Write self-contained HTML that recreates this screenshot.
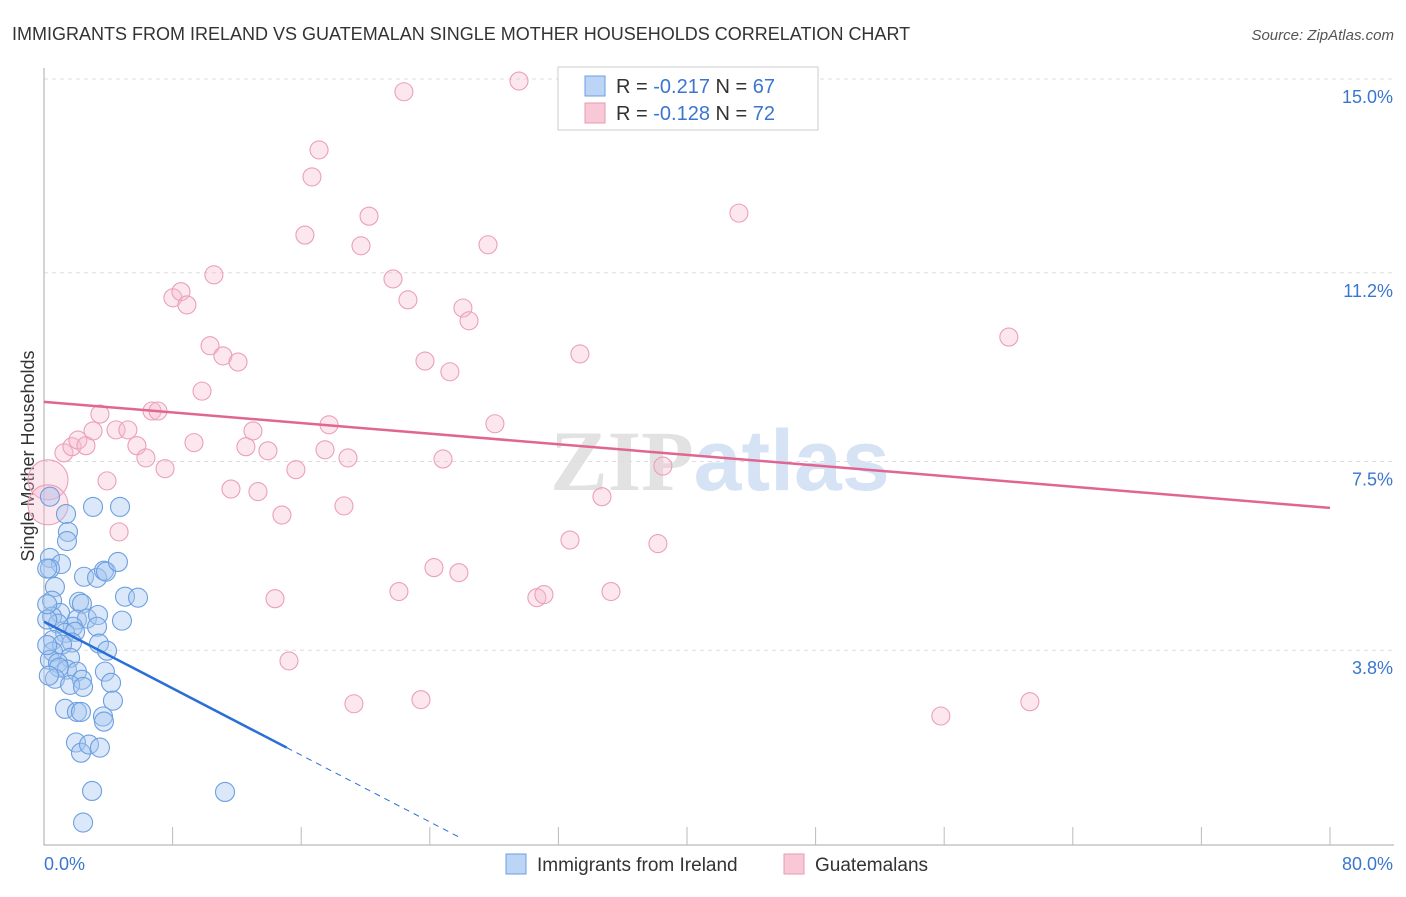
<!DOCTYPE html>
<html><head><meta charset="utf-8"><style>
body{margin:0;background:#fff;font-family:"Liberation Sans",sans-serif}
svg text{font-family:"Liberation Sans",sans-serif}
</style></head><body>
<svg id="c" width="1406" height="892" xmlns="http://www.w3.org/2000/svg">
<text x="12" y="40" font-size="18" fill="#333">IMMIGRANTS FROM IRELAND VS GUATEMALAN SINGLE MOTHER HOUSEHOLDS CORRELATION CHART</text>
<text x="1394" y="40" font-size="15" fill="#555" text-anchor="end" font-style="italic">Source: ZipAtlas.com</text>
<text x="720" y="490" font-size="86" text-anchor="middle"><tspan fill="#e2e2e2" font-family="Liberation Serif" font-weight="bold">ZIP</tspan><tspan fill="#d6e3f4" font-weight="bold">atlas</tspan></text>
<text transform="translate(34,456) rotate(-90)" font-size="18" fill="#333" text-anchor="middle">Single Mother Households</text>
<g id="grid"></g><g id="axes"></g><g id="pts"></g><g id="lines"></g>
<g>
<rect x="558" y="67" width="260" height="63" fill="#fff" stroke="#ccc"/>
<rect x="585" y="76" width="20" height="20" fill="#bcd4f5" stroke="#6d9fe0"/>
<rect x="585" y="103" width="20" height="20" fill="#f8c8d6" stroke="#e99ab3"/>
<text x="616" y="93" font-size="20" fill="#333">R = <tspan fill="#3a76d0">-0.217</tspan>   N = <tspan fill="#3a76d0">67</tspan></text>
<text x="616" y="120" font-size="20" fill="#333">R = <tspan fill="#3a76d0">-0.128</tspan>   N = <tspan fill="#3a76d0">72</tspan></text>
</g>
<g>
<rect x="506" y="854" width="20" height="20" fill="#bcd4f5" stroke="#6d9fe0"/>
<text x="537" y="871" font-size="19" fill="#333">Immigrants from Ireland</text>
<rect x="784" y="854" width="20" height="20" fill="#f8c8d6" stroke="#e99ab3"/>
<text x="815" y="871" font-size="19" fill="#333">Guatemalans</text>
</g>
</svg>
<script>
const yTicks=[3.8,7.5,11.2,15.0];
const yTickLabels=["3.8%","7.5%","11.2%","15.0%"];
const xLabels=["0.0%","80.0%"];
const blueX=[0.37,1.37,1.49,1.43,3.05,4.73,0.37,1.06,0.37,0.68,2.49,3.30,3.73,3.86,4.60,5.04,5.85,0.50,2.18,2.36,1.00,2.05,2.67,3.36,3.30,4.85,0.50,1.80,0.87,1.31,1.93,1.74,0.56,1.12,0.56,0.37,1.62,3.42,3.92,0.87,1.43,0.93,2.05,2.36,0.68,1.62,2.43,3.79,4.17,4.29,1.31,2.05,2.30,3.67,3.73,1.99,2.30,2.80,3.48,2.99,11.26,2.43,0.2,0.2,0.3,0.2,0.2];
const blueY=[6.81,6.47,6.12,5.94,6.61,6.61,5.61,5.49,5.40,5.04,5.24,5.22,5.36,5.34,5.53,4.85,4.83,4.77,4.75,4.71,4.53,4.40,4.42,4.49,4.26,4.38,4.46,4.26,4.32,4.14,4.16,3.95,4.00,3.91,3.77,3.61,3.65,3.93,3.79,3.55,3.42,3.46,3.38,3.22,3.24,3.12,3.08,3.38,3.16,2.81,2.65,2.59,2.59,2.50,2.40,1.99,1.79,1.95,1.89,1.04,1.02,0.42,4.4,3.9,3.3,5.4,4.7];
const pinkX=[0.25,0.25,1.24,1.74,2.11,2.61,3.05,3.48,3.92,4.67,4.48,5.22,5.78,6.34,6.72,7.09,7.53,8.02,8.52,8.89,9.33,9.83,10.33,10.57,11.13,11.63,12.07,12.56,13.00,13.31,13.93,14.80,15.24,14.37,15.67,16.23,16.67,17.11,17.48,17.73,18.66,18.91,19.28,19.72,20.22,21.71,22.08,22.39,22.64,23.45,23.70,24.26,24.82,25.25,25.81,26.06,26.44,27.62,28.05,29.55,30.66,31.10,32.72,33.34,34.71,35.27,38.19,38.50,43.23,55.79,60.02,61.33];
const pinkY=[7.14,6.65,7.67,7.79,7.92,7.81,8.10,8.43,7.12,6.12,8.12,8.12,7.81,7.57,8.49,8.49,7.36,10.71,10.83,10.57,7.87,8.88,9.77,11.16,9.57,6.96,9.45,7.79,8.10,6.91,7.71,6.45,3.59,4.81,7.34,11.94,13.08,13.61,7.73,8.22,6.63,7.57,2.75,11.73,12.31,11.08,4.95,14.75,10.67,2.83,9.47,5.42,7.55,9.26,5.32,10.51,10.26,11.75,8.24,14.96,4.83,4.89,5.96,9.61,6.81,4.95,5.89,7.41,12.37,2.51,9.94,2.79];
const pinkR=[20,20,9,9,9,9,9,9,9,9,9,9,9,9,9,9,9,9,9,9,9,9,9,9,9,9,9,9,9,9,9,9,9,9,9,9,9,9,9,9,9,9,9,9,9,9,9,9,9,9,9,9,9,9,9,9,9,9,9,9,9,9,9,9,9,9,9,9,9,9,9,9];
const blueTrend=[4.36,-0.1636];
const blueSolidEnd=15.1, blueDashEnd=26.0;
const pinkTrend=[8.67,-0.026];
const X0=44,X1=1330,Y0=845;
const sx=v=>X0+v/80*(X1-X0);
const sy=v=>79+(15-v)*51.0;
const NS="http://www.w3.org/2000/svg";
function mk(t,a,p){const e=document.createElementNS(NS,t);for(const k in a)e.setAttribute(k,a[k]);document.getElementById(p).appendChild(e);return e;}
yTicks.forEach((v,i)=>{
 const g=mk('line',{x1:X0,x2:1394,y1:sy(v),y2:sy(v),stroke:'#ddd','stroke-dasharray':'4,4'},'grid');
 
 
 const t=mk('text',{x:1393,y:sy(v)+24,'font-size':18,fill:'#3a76d0','text-anchor':'end'},'axes');
 t.textContent=yTickLabels[i];
 
 
});
const ax=mk('path',{d:`M${X0} 68V${Y0}H1394`,stroke:'#aaa',fill:'none'},'axes');


for(let i=1;i<=10;i++){const tk=mk('line',{x1:sx(i*8),x2:sx(i*8),y1:Y0,y2:Y0-18,stroke:'#bbb'},'axes');
 
 }
const xl0=mk('text',{x:44,y:870,'font-size':18,fill:'#3a76d0'},'axes');xl0.textContent=xLabels[0];


const xl1=mk('text',{x:1393,y:870,'font-size':18,fill:'#3a76d0','text-anchor':'end'},'axes');xl1.textContent=xLabels[1];


pinkX.forEach((v,i)=>{const c=mk('circle',{cx:sx(v),cy:sy(pinkY[i]),r:pinkR[i],fill:'rgba(246,185,205,0.35)',stroke:'#eba0b8','stroke-width':1.1},'pts');
 
 });
blueX.forEach((v,i)=>{const c=mk('circle',{cx:sx(v),cy:sy(blueY[i]),r:9.5,fill:'rgba(165,198,240,0.4)',stroke:'#6d9fe0','stroke-width':1.1},'pts');
 
 });
const bl=mk('line',{x1:sx(0),y1:sy(blueTrend[0]),x2:sx(blueSolidEnd),y2:sy(blueTrend[0]+blueTrend[1]*blueSolidEnd),stroke:'#2a6fd6','stroke-width':2.5},'lines');


const bd=mk('line',{x1:sx(blueSolidEnd),y1:sy(blueTrend[0]+blueTrend[1]*blueSolidEnd),x2:sx(blueDashEnd),y2:sy(blueTrend[0]+blueTrend[1]*blueDashEnd),stroke:'#2a6fd6','stroke-width':1,'stroke-dasharray':'6,5'},'lines');


const pl=mk('line',{x1:sx(0),y1:sy(pinkTrend[0]),x2:sx(80),y2:sy(pinkTrend[0]+pinkTrend[1]*80),stroke:'#e06593','stroke-width':2.5},'lines');


</script>
</body></html>
